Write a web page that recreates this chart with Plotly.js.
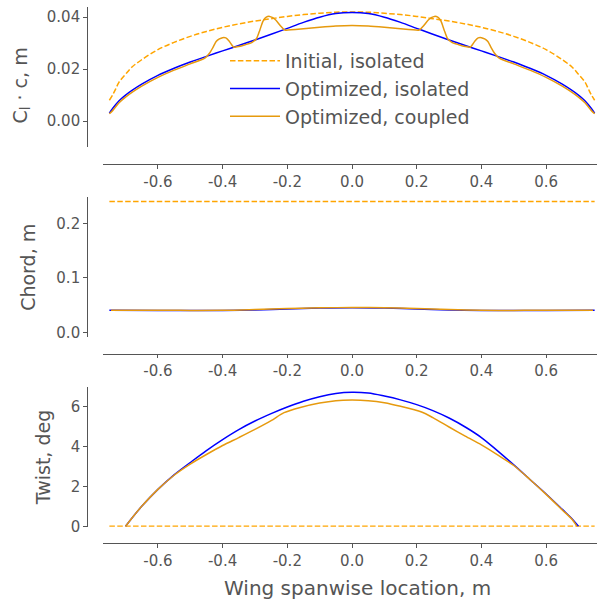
<!DOCTYPE html>
<html>
<head>
<meta charset="utf-8">
<script src="https://cdn.plot.ly/plotly-3.0.1.min.js"></script>
<style>
  html, body { margin: 0; padding: 0; background: #fff; }
  #chart { width: 597px; height: 600px; }
</style>
</head>
<body>
<div id="chart"></div>
<script>
// ---- Lift distribution, C_l * c [m] ----
const liftInitX = [-0.75,-0.74,-0.73,-0.72,-0.70,-0.68,-0.65,-0.60,-0.55,-0.50,-0.45,-0.40,-0.35,-0.30,-0.25,-0.20,-0.15,-0.10,-0.05,0.00,
                    0.05,0.10,0.15,0.20,0.25,0.30,0.35,0.40,0.45,0.50,0.55,0.60,0.65,0.68,0.70,0.72,0.73,0.74,0.75];
const liftInitY = [0.0080,0.0100,0.0125,0.0150,0.0180,0.0208,0.0236,0.0275,0.0303,0.0326,0.0345,0.0361,0.0374,0.0385,0.0394,0.0403,0.0410,0.0415,0.0419,0.0420,
                    0.0419,0.0415,0.0410,0.0403,0.0394,0.0385,0.0374,0.0361,0.0345,0.0326,0.0303,0.0275,0.0236,0.0208,0.0180,0.0150,0.0125,0.0100,0.0080];

const liftOptIsoX = [-0.75,-0.74,-0.72,-0.70,-0.65,-0.60,-0.55,-0.50,-0.45,-0.40,-0.35,-0.30,-0.25,-0.20,-0.15,-0.10,-0.05,0.00,
                      0.05,0.10,0.15,0.20,0.25,0.30,0.35,0.40,0.45,0.50,0.55,0.60,0.65,0.70,0.72,0.74,0.75];
const liftOptIsoY = [0.0030,0.0048,0.0078,0.0100,0.0142,0.0176,0.0203,0.0227,0.0249,0.0270,0.0291,0.0312,0.0334,0.0357,0.0380,0.0400,0.0414,0.0418,
                      0.0414,0.0400,0.0380,0.0357,0.0334,0.0312,0.0291,0.0270,0.0249,0.0227,0.0203,0.0176,0.0142,0.0100,0.0078,0.0048,0.0030];

const liftCoupX = [-0.75,-0.74,-0.72,-0.70,-0.65,-0.60,-0.55,-0.50,-0.455,-0.44,-0.43,-0.42,-0.41,-0.40,-0.39,-0.38,-0.37,-0.365,-0.35,-0.33,-0.31,-0.295,
                   -0.285,-0.275,-0.265,-0.255,-0.245,-0.235,-0.22,-0.21,-0.205,-0.15,-0.10,-0.05,0.00,
                   0.05,0.10,0.15,0.205,0.21,0.22,0.235,0.245,0.255,0.265,0.275,0.285,0.295,0.31,0.33,0.35,0.365,0.37,0.38,0.39,0.40,0.41,0.42,0.43,0.44,0.455,
                   0.50,0.55,0.60,0.65,0.70,0.72,0.74,0.75];
const liftCoupY = [0.0028,0.0040,0.0070,0.0092,0.0134,0.0168,0.0196,0.0220,0.0242,0.0262,0.0283,0.0306,0.0316,0.0321,0.0320,0.0308,0.0290,0.0284,0.0287,0.0294,0.0302,0.0318,
                   0.0350,0.0385,0.0400,0.0403,0.0398,0.0388,0.0365,0.0352,0.0350,0.0355,0.0361,0.0366,0.0368,
                   0.0366,0.0361,0.0355,0.0350,0.0352,0.0365,0.0388,0.0398,0.0403,0.0400,0.0385,0.0350,0.0318,0.0302,0.0294,0.0287,0.0284,0.0290,0.0308,0.0320,0.0321,0.0316,0.0306,0.0283,0.0262,0.0242,
                   0.0220,0.0196,0.0168,0.0134,0.0092,0.0070,0.0040,0.0028];

// ---- Chord [m] ----
const chordInitX = [-0.75, 0.75];
const chordInitY = [0.24, 0.24];
const chordOptIsoX = [-0.75,-0.60,-0.50,-0.40,-0.30,-0.20,-0.10,0.00,0.10,0.20,0.30,0.40,0.50,0.60,0.75];
const chordOptIsoY = [0.0404,0.0402,0.0401,0.0402,0.0411,0.0427,0.0444,0.0451,0.0444,0.0427,0.0411,0.0402,0.0401,0.0402,0.0404];
const chordCoupX = [-0.745,-0.60,-0.50,-0.40,-0.30,-0.20,-0.10,0.00,0.10,0.20,0.30,0.40,0.50,0.60,0.745];
const chordCoupY = [0.0404,0.0403,0.0402,0.0404,0.0418,0.0436,0.0449,0.0454,0.0451,0.0437,0.0416,0.0403,0.0402,0.0403,0.0404];

// ---- Twist [deg] ----
const twistInitX = [-0.75, 0.75];
const twistInitY = [0, 0];
const twistOptIsoX = [-0.70,-0.68,-0.65,-0.60,-0.55,-0.50,-0.45,-0.40,-0.35,-0.30,-0.25,-0.20,-0.15,-0.10,-0.05,0.00,
                       0.05,0.10,0.15,0.20,0.25,0.30,0.35,0.40,0.45,0.50,0.55,0.60,0.65,0.68,0.70];
const twistOptIsoY = [0.00,0.42,1.00,1.85,2.58,3.20,3.80,4.35,4.85,5.28,5.65,5.98,6.27,6.50,6.66,6.72,
                       6.68,6.53,6.34,6.10,5.80,5.43,4.98,4.45,3.78,3.08,2.35,1.62,0.85,0.38,0.00];
const twistCoupX = [-0.70,-0.68,-0.65,-0.60,-0.55,-0.50,-0.45,-0.40,-0.35,-0.30,-0.25,-0.21,-0.16,-0.10,-0.05,0.00,
                     0.05,0.10,0.15,0.215,0.25,0.30,0.35,0.40,0.45,0.50,0.55,0.60,0.65,0.68,0.695];
const twistCoupY = [0.00,0.42,1.00,1.85,2.56,3.12,3.60,4.05,4.45,4.86,5.30,5.70,5.96,6.18,6.30,6.33,
                     6.30,6.20,6.02,5.73,5.45,4.98,4.52,4.08,3.58,3.05,2.35,1.60,0.82,0.35,0.00];

// tick labels
const xTickVals = [-0.6,-0.4,-0.2,0.0,0.2,0.4,0.6];
const xTickText = ['-0.6','-0.4','-0.2','0.0','0.2','0.4','0.6'];
const liftTickVals = [0, 0.02, 0.04];
const liftTickText = ['0.00','0.02','0.04'];
const chordTickVals = [0, 0.1, 0.2];
const chordTickText = ['0.0','0.1','0.2'];
const twistTickVals = [0, 2, 4, 6];
const twistTickText = ['0','2','4','6'];

const seriesNames = ['Initial, isolated', 'Optimized, isolated', 'Optimized, coupled'];

const INIT_COLOR = '#FFA500';
const ISO_COLOR = '#0000FF';
const COUP_COLOR = '#E69A0E';
const TEXT = '#555555';
const FONT = 'DejaVu Sans, sans-serif';

function line(x, y, ax, color, dash, name, legend, smoothing) {
  return {
    x: x, y: y, xaxis: 'x' + ax, yaxis: 'y' + ax,
    type: 'scatter', mode: 'lines', name: name,
    legendgroup: name, showlegend: legend,
    line: {color: color, width: 1.5, dash: dash, shape: 'spline', smoothing: smoothing},
    hoverinfo: 'skip'
  };
}
const DASH = '5.5px,2.4px';

const data = [
  line(liftInitX, liftInitY, '', INIT_COLOR, DASH, seriesNames[0], true, 1.0),
  line(liftOptIsoX, liftOptIsoY, '', ISO_COLOR, 'solid', seriesNames[1], true, 1.0),
  line(liftCoupX, liftCoupY, '', COUP_COLOR, 'solid', seriesNames[2], true, 0.6),
  line(chordInitX, chordInitY, '2', INIT_COLOR, DASH, seriesNames[0], false, 1.0),
  line(chordOptIsoX, chordOptIsoY, '2', ISO_COLOR, 'solid', seriesNames[1], false, 1.0),
  line(chordCoupX, chordCoupY, '2', COUP_COLOR, 'solid', seriesNames[2], false, 1.0),
  line(twistInitX, twistInitY, '3', INIT_COLOR, DASH, seriesNames[0], false, 1.0),
  line(twistOptIsoX, twistOptIsoY, '3', ISO_COLOR, 'solid', seriesNames[1], false, 1.0),
  line(twistCoupX, twistCoupY, '3', COUP_COLOR, 'solid', seriesNames[2], false, 0.8)
];

const W = 597, H = 600;
const px = v => v / W;          // horizontal pixel -> paper fraction
const py = v => 1 - v / H;      // vertical pixel (from top) -> paper fraction

const xRange = [-0.7697, 0.7573];
function xAxis(posPx) {
  return {
    domain: [px(103), 1], anchor: 'free', position: py(posPx),
    range: xRange, tickmode: 'array', tickvals: xTickVals, ticktext: xTickText,
    ticks: 'outside', ticklen: 3.5, tickwidth: 1, tickcolor: TEXT,
    showline: true, linecolor: TEXT, linewidth: 1,
    showgrid: false, zeroline: false,
    tickfont: {family: FONT, size: 15, color: TEXT}
  };
}
function yAxis(top, bottom, range, vals, text, title) {
  const ax = {
    domain: [py(bottom), py(top)], anchor: 'free', position: px(86.7),
    range: range, tickmode: 'array', tickvals: vals, ticktext: text,
    ticks: 'outside', ticklen: 3.5, tickwidth: 1, tickcolor: TEXT,
    showline: true, linecolor: TEXT, linewidth: 1,
    showgrid: false, zeroline: false,
    tickfont: {family: FONT, size: 15, color: TEXT}
  };
  if (title) ax.title = {text: title, font: {family: FONT, size: 19, color: TEXT}, standoff: 14};
  return ax;
}

const layout = {
  width: W, height: H,
  margin: {l: 0, r: 0, t: 0, b: 0},
  paper_bgcolor: '#fff', plot_bgcolor: '#fff',
  font: {family: FONT, color: TEXT},
  showlegend: true,
  legend: {
    x: px(225), y: py(42), xanchor: 'left', yanchor: 'top',
    bgcolor: 'rgba(0,0,0,0)', borderwidth: 0,
    font: {family: FONT, size: 19, color: TEXT},
    traceorder: 'grouped', tracegroupgap: 0, itemwidth: 50
  },
  xaxis: xAxis(164),
  xaxis2: xAxis(353.7),
  xaxis3: xAxis(543.3),
  yaxis: yAxis(7.3, 146.7, [-0.0099, 0.0438], liftTickVals, liftTickText, null),
  yaxis2: yAxis(197.3, 337.3, [-0.0092, 0.2477], chordTickVals, chordTickText, 'Chord, m'),
  yaxis3: yAxis(387.3, 526.7, [-0.02, 6.97], twistTickVals, twistTickText, 'Twist, deg'),
  annotations: [
    {text: 'C<sub>l</sub> · c, m', xref: 'paper', yref: 'paper', x: px(21.5), y: py(86),
     xanchor: 'center', yanchor: 'middle', textangle: -90, showarrow: false,
     font: {family: FONT, size: 19, color: TEXT}},
    {text: 'Wing spanwise location, m', xref: 'paper', yref: 'paper', x: px(357.8), y: py(587.5),
     xanchor: 'center', yanchor: 'middle', showarrow: false,
     font: {family: FONT, size: 20, color: TEXT}}
  ]
};

Plotly.newPlot('chart', data, layout, {displayModeBar: false, staticPlot: true});
</script>
</body>
</html>
